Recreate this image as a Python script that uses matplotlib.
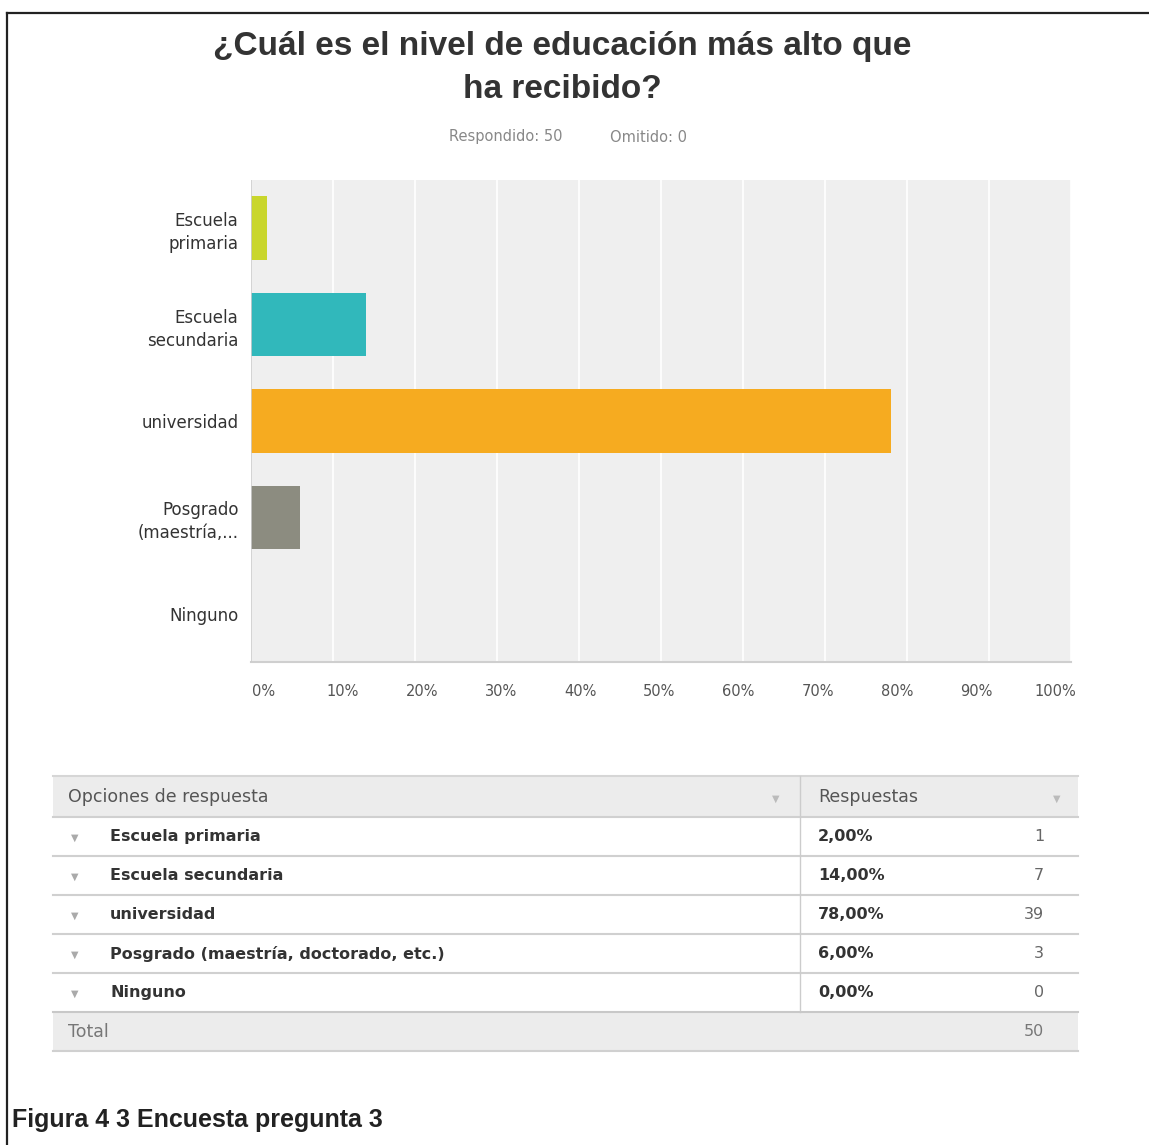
import matplotlib
matplotlib.use("Agg")
import matplotlib.pyplot as plt
from matplotlib.patches import Rectangle
from matplotlib.transforms import ScaledTranslation

# ---- data ----
categories = ["Escuela\nprimaria", "Escuela\nsecundaria", "universidad", "Posgrado\n(maestría,...", "Ninguno"]
table_labels = ["Escuela primaria", "Escuela secundaria", "universidad",
                "Posgrado (maestría, doctorado, etc.)", "Ninguno"]
percentages = [2.0, 14.0, 78.0, 6.0, 0.0]
counts = [1, 7, 39, 3, 0]
total = 50
bar_colors = ["#C9D62C", "#31B8BB", "#F6AB20", "#8C8C80", "#B0B0B0"]
xticks = [0, 10, 20, 30, 40, 50, 60, 70, 80, 90, 100]
xtick_labels = [f"{v}%" for v in xticks]

W, H = 1149, 1145
fig = plt.figure(figsize=(W / 100, H / 100), dpi=100)
fig.patch.set_facecolor("white")

def fx(px):
    return px / W

def fy(py):
    return 1 - py / H

# overlay axes in pixel coordinates
ov = fig.add_axes([0, 0, 1, 1])
ov.set_xlim(0, W)
ov.set_ylim(H, 0)
ov.axis("off")

# outer border
ov.plot([7, 7], [13, H], color="#222222", lw=1.6)
ov.plot([7, W], [13, 13], color="#222222", lw=1.6)

# title
ov.text(562, 47, "¿Cuál es el nivel de educación más alto que", ha="center", va="center",
        fontsize=24, fontweight="bold", color="#333333", family="Liberation Sans")
ov.text(562, 90, "ha recibido?", ha="center", va="center",
        fontsize=24, fontweight="bold", color="#333333", family="Liberation Sans")
ov.text(506, 137, "Respondido: 50", ha="center", va="center", fontsize=10.5, color="#888888",
        family="DejaVu Sans")
ov.text(649, 137, "Omitido: 0", ha="center", va="center", fontsize=10.5, color="#888888",
        family="DejaVu Sans")

# chart axes
x0, x1, y0, y1 = 251, 1071, 180, 662
ax = fig.add_axes([fx(x0), fy(y1), fx(x1) - fx(x0), fy(y0) - fy(y1)])
ax.set_facecolor("#EFEFEF")
ypos = list(range(len(categories)))
ax.barh(ypos, percentages, height=0.66, color=bar_colors, zorder=3)
ax.set_xlim(0, 100)
ax.set_ylim(len(categories) - 0.5, -0.5)
ax.set_xticks(xticks)
ax.set_xticklabels(xtick_labels, fontsize=10.5, color="#555555", family="DejaVu Sans")
ax.tick_params(axis="x", length=0, pad=16)
for i, lbl in enumerate(ax.get_xticklabels()):
    dx = (13 - 2.9 * i) / 100.0
    lbl.set_transform(lbl.get_transform() + ScaledTranslation(dx, 0, fig.dpi_scale_trans))
ax.set_yticks(ypos)
ax.set_yticklabels(categories, fontsize=12, color="#333333", family="DejaVu Sans",
                   linespacing=1.35)
ax.tick_params(axis="y", length=0, pad=9)
ax.grid(axis="x", color="white", lw=1.2, zorder=1)
for s in ["top", "right", "left"]:
    ax.spines[s].set_visible(False)
ax.spines["bottom"].set_color("#CFCFCF")
ax.spines["bottom"].set_linewidth(1.5)
ax.axvline(0, color="#CCCCCC", lw=1.2, zorder=4)

# ---- table ----
tx0, tx1, tdiv = 53, 1078, 800
row_h = 39
hy = 776
ov.add_patch(Rectangle((tx0, hy), tx1 - tx0, 41, facecolor="#ECECEC", edgecolor="none"))
ov.plot([tx0, tx1], [hy, hy], color="#D6D6D6", lw=1.5)
ov.text(68, hy + 21, "Opciones de respuesta", ha="left", va="center", fontsize=12.5,
        color="#555555", family="DejaVu Sans")
ov.text(818, hy + 21, "Respuestas", ha="left", va="center", fontsize=12.5,
        color="#555555", family="DejaVu Sans")
ov.text(776, hy + 23, "▼", ha="center", va="center", fontsize=7, color="#BBBBBB")
ov.text(1057, hy + 23, "▼", ha="center", va="center", fontsize=7, color="#BBBBBB")

ry = hy + 41
for i, lab in enumerate(table_labels):
    top = ry + i * row_h
    cy = top + row_h / 2
    ov.plot([tx0, tx1], [top, top], color="#D0D0D0", lw=1.5)
    ov.text(75, cy + 1, "▼", ha="center", va="center", fontsize=7, color="#AAAAAA")
    ov.text(110, cy, lab, ha="left", va="center", fontsize=11.5, color="#333333",
            fontweight="bold", family="DejaVu Sans")
    ov.text(818, cy, f"{percentages[i]:.2f}%".replace(".", ","), ha="left", va="center",
            fontsize=11.5, color="#333333", fontweight="bold", family="DejaVu Sans")
    ov.text(1044, cy, str(counts[i]), ha="right", va="center", fontsize=11.5,
            color="#666666", family="DejaVu Sans")

tot_top = ry + len(table_labels) * row_h
ov.plot([tdiv, tdiv], [hy, tot_top], color="#CCCCCC", lw=1)
ov.add_patch(Rectangle((tx0, tot_top), tx1 - tx0, 39, facecolor="#ECECEC", edgecolor="none"))
ov.plot([tx0, tx1], [tot_top, tot_top], color="#C8C8C8", lw=1.5)
ov.plot([tx0, tx1], [tot_top + 39, tot_top + 39], color="#D0D0D0", lw=1.5)
ov.text(68, tot_top + 20, "Total", ha="left", va="center", fontsize=12.5,
        color="#777777", family="DejaVu Sans")
ov.text(1044, tot_top + 20, str(total), ha="right", va="center", fontsize=11.5,
        color="#777777", family="DejaVu Sans")

# caption
ov.text(12, 1120, "Figura 4 3 Encuesta pregunta 3", ha="left", va="center",
        fontsize=18, fontweight="bold", color="#222222", family="Liberation Sans")

fig.savefig("out.png", dpi=100)
